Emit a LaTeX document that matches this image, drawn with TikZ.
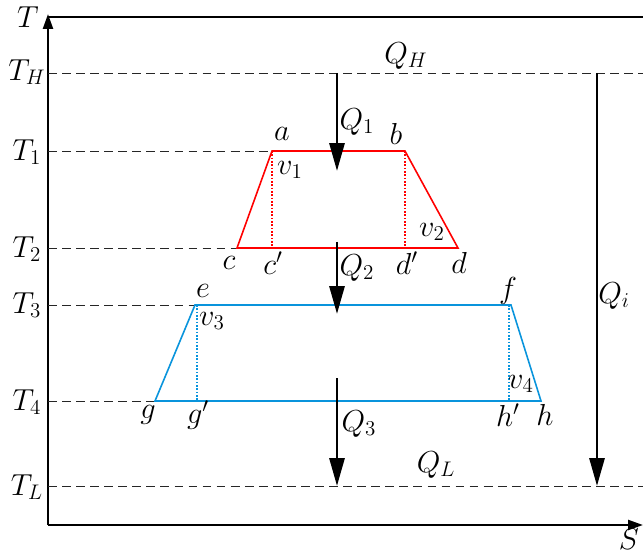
\documentclass[tikz,border=0pt]{standalone}
\usetikzlibrary{arrows.meta}

\begin{document}
\begin{tikzpicture}[x=0.02cm,y=-0.02cm,
    axis/.style={line width=1.3pt},
    level/.style={black!85, line width=0.55pt, dash pattern=on 5pt off 3pt},
    heat/.style={line width=1.7pt, -{Triangle[length=0.56cm,width=0.3cm]}},
    cyclered/.style={red, line width=0.9pt},
    cycleblue/.style={cyan!80!blue, line width=0.9pt},
    lbl/.style={font=\fontsize{17}{20}\selectfont, inner sep=1pt}]
    \useasboundingbox (0,0) rectangle (643,554);

    % Draw the axes
    \coordinate (O) at (48,525);
    \coordinate (Ttip) at (48,14);
    \coordinate (Ttop) at (48,17);
    \coordinate (Tright) at (643,17);
    \coordinate (Stip) at (643,525);
    \draw[axis, -{Triangle[length=0.3cm,width=0.2cm]}] (O) -- (Ttip);
    \draw[axis] (Ttop) -- (Tright);
    \draw[axis, -{Triangle[length=0.3cm,width=0.2cm]}] (O) -- (Stip);
    \node[lbl] (T) at (28,17) {$T$};
    \node[lbl, anchor=east] (S) at (641,539) {$S$};

    % Label the temperature levels
    \node[lbl] (TH) at (27,72) {$T_H$};
    \node[lbl] (T1) at (27,152) {$T_1$};
    \node[lbl] (T2) at (27,249) {$T_2$};
    \node[lbl] (T3) at (27,305) {$T_3$};
    \node[lbl] (T4) at (27,402) {$T_4$};
    \node[lbl] (TL) at (27,487) {$T_L$};

    % Corners of the red cycle
    \coordinate (a) at (272,151);
    \coordinate (b) at (405,151);
    \coordinate (d) at (458,248);
    \coordinate (c) at (237,248);
    \coordinate (c') at (272,248);
    \coordinate (d') at (405,248);

    % Corners of the blue cycle
    \coordinate (e) at (195,305);
    \coordinate (f) at (511,305);
    \coordinate (h) at (541,401);
    \coordinate (g) at (155,401);
    \coordinate (g') at (197,401);
    \coordinate (h') at (509,401);

    % Draw the dashed levels
    \draw[level] (48,73) -- (643,73);
    \draw[level] (48,151) -- (a);
    \draw[level] (48,248) -- (c);
    \draw[level] (48,305) -- (e);
    \draw[level] (48,401) -- (g);
    \draw[level] (48,486) -- (643,486);

    % Draw the cycles
    \draw[cyclered] (a) -- (b) -- (d) -- (c) -- cycle;
    \draw[cyclered, densely dotted] (a) -- (c');
    \draw[cyclered, densely dotted] (b) -- (d');
    \draw[cycleblue] (e) -- (f) -- (h) -- (g) -- cycle;
    \draw[cycleblue, densely dotted] (197,305) -- (g');
    \draw[cycleblue, densely dotted] (509,305) -- (h');

    % Label the corners
    \node[lbl] at (282,134) {$a$};
    \node[lbl] at (396,134) {$b$};
    \node[lbl] at (229,263) {$c$};
    \node[lbl] at (273,263) {$c'$};
    \node[lbl] at (407,263) {$d'$};
    \node[lbl] at (459,263) {$d$};
    \node[lbl] at (290,170) {$v_1$};
    \node[lbl] at (432,232) {$v_2$};
    \node[lbl] at (203,291) {$e$};
    \node[lbl] at (508,291) {$f$};
    \node[lbl] at (212,321) {$v_3$};
    \node[lbl] at (521,384) {$v_4$};
    \node[lbl] at (148,415) {$g$};
    \node[lbl] at (198,415) {$g'$};
    \node[lbl] at (508,415) {$h'$};
    \node[lbl] at (545,415) {$h$};

    % Draw the heat flows
    \coordinate (q1s) at (337,73);
    \coordinate (q1e) at (337,171);
    \coordinate (q2s) at (337,242);
    \coordinate (q2e) at (337,314);
    \coordinate (q3s) at (337,378);
    \coordinate (q3e) at (337,486);
    \coordinate (qis) at (597,73);
    \coordinate (qie) at (597,486);
    \draw[heat] (q1s) -- (q1e);
    \draw[heat] (q2s) -- (q2e);
    \draw[heat] (q3s) -- (q3e);
    \draw[heat] (qis) -- (qie);
    \node[lbl] at (406,56) {$Q_H$};
    \node[lbl] at (357,122) {$Q_1$};
    \node[lbl] at (357,268) {$Q_2$};
    \node[lbl] at (359,424) {$Q_3$};
    \node[lbl] at (436,465) {$Q_L$};
    \node[lbl] at (614,296) {$Q_i$};

\end{tikzpicture}
\end{document}
